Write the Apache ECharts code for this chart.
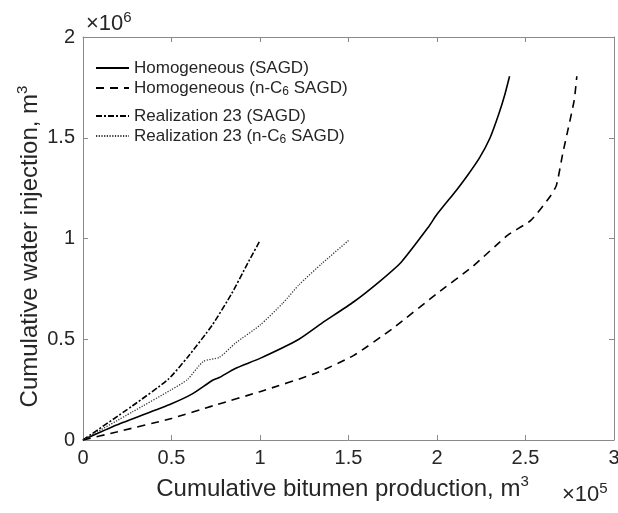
<!DOCTYPE html>
<html>
<head>
<meta charset="utf-8">
<script src="https://cdn.jsdelivr.net/npm/echarts@6/dist/echarts.min.js"></script>
<style>
  html, body { margin: 0; padding: 0; background: #fff; }
  #chart { width: 618px; height: 513px; }
</style>
</head>
<body>
<div id="chart"></div>
<script>
// x: cumulative bitumen production (x1e5 m3), y: cumulative water injection (x1e6 m3)
var names = [
  'Homogeneous (SAGD)',
  'Homogeneous (n-C6 SAGD)',
  'Realization 23 (SAGD)',
  'Realization 23 (n-C6 SAGD)'
];
var homSagd = [
  [0, 0], [0.19, 0.074], [0.5, 0.18], [0.62, 0.23], [0.73, 0.295], [0.77, 0.31],
  [0.86, 0.355], [1.0, 0.405], [1.22, 0.5], [1.35, 0.58], [1.53, 0.686],
  [1.68, 0.79], [1.8, 0.885], [1.95, 1.055], [2.0, 1.12], [2.11, 1.24],
  [2.17, 1.31], [2.24, 1.4], [2.3, 1.5], [2.35, 1.62], [2.385, 1.72], [2.41, 1.805]
];
var homC6 = [
  [0, 0], [0.19, 0.04], [0.5, 0.107], [0.75, 0.174], [1.0, 0.24], [1.31, 0.33],
  [1.53, 0.42], [1.75, 0.554], [2.0, 0.727], [2.2, 0.86], [2.4, 1.017],
  [2.53, 1.09], [2.64, 1.21], [2.675, 1.265], [2.71, 1.42], [2.74, 1.54],
  [2.775, 1.686], [2.79, 1.805]
];
var realSagd = [
  [0, 0], [0.28, 0.17], [0.48, 0.3], [0.59, 0.41], [0.73, 0.57],
  [0.84, 0.727], [0.93, 0.876], [1.0, 0.99]
];
var realC6 = [
  [0, 0], [0.28, 0.14], [0.5, 0.25], [0.59, 0.3], [0.68, 0.39], [0.77, 0.41],
  [0.86, 0.48], [1.0, 0.57], [1.13, 0.68], [1.22, 0.77], [1.35, 0.876], [1.5, 0.99]
];
var xTicks = { min: 0, max: 3, interval: 0.5 };
var yTicks = { min: 0, max: 2, interval: 0.5 };

var font = 'Arial, "Liberation Sans", Helvetica, sans-serif';
var axisGray = '#8a8a8a';
var textColor = '#262626';

var myChart = echarts.init(document.getElementById('chart'));

function legendFmt(name) {
  return name.replace('C6', 'C{sub|6}');
}
var legendText = {
  fontFamily: font, fontSize: 17, color: textColor, lineHeight: 20,
  rich: { sub: { fontSize: 12, verticalAlign: 'bottom', lineHeight: 11 } }
};

function axisBase(pos, show, range) {
  return {
    type: 'value', position: pos,
    min: range.min, max: range.max, interval: range.interval,
    axisLine: { show: true, onZero: false, lineStyle: { color: axisGray, width: 1 } },
    axisTick: { show: true, inside: true, length: 5, lineStyle: { color: axisGray } },
    axisLabel: {
      show: show, color: textColor, fontFamily: font, fontSize: 20, margin: 8
    },
    splitLine: { show: false }
  };
}

var nameRich = {
  a: { fontFamily: font, fontSize: 24, color: textColor, lineHeight: 30 },
  s: { fontFamily: font, fontSize: 15, color: textColor, verticalAlign: 'top', lineHeight: 16 }
};

var xBottom = axisBase('bottom', true, xTicks);
xBottom.name = '{a|Cumulative bitumen production, m}{s|3}';
xBottom.nameLocation = 'middle';
xBottom.nameGap = 34;
xBottom.nameTextStyle = { rich: nameRich, padding: [0, 12, 0, 0] };

var yLeft = axisBase('left', true, yTicks);
yLeft.name = '{a|Cumulative water injection, m}{s|3}';
yLeft.nameLocation = 'middle';
yLeft.nameGap = 38;
yLeft.nameMoveOverlap = false;
yLeft.nameTextStyle = { rich: nameRich, padding: [0, 16, 0, 0] };

var expRich = {
  a: { fontFamily: font, fontSize: 22, fill: textColor, lineHeight: 28 },
  s: { fontFamily: font, fontSize: 15, fill: textColor, verticalAlign: 'top', lineHeight: 15 }
};

var option = {
  backgroundColor: '#fff',
  animation: false,
  grid: { left: 83, right: 4, top: 37, bottom: 73, containLabel: false, outerBoundsMode: 'none' },
  legend: [
    {
      orient: 'vertical', left: 95, top: 58, padding: 0, itemWidth: 33, itemHeight: 12, itemGap: 0,
      data: names.slice(0, 2), formatter: legendFmt, textStyle: legendText,
      itemStyle: { opacity: 0 }, selectedMode: false
    },
    {
      orient: 'vertical', left: 95, top: 106, padding: 0, itemWidth: 33, itemHeight: 12, itemGap: 0,
      data: names.slice(2, 4), formatter: legendFmt, textStyle: legendText,
      itemStyle: { opacity: 0 }, selectedMode: false
    }
  ],
  xAxis: [xBottom, axisBase('top', false, xTicks)],
  yAxis: [yLeft, axisBase('right', false, yTicks)],
  graphic: [
    {
      type: 'text', left: 86, top: 10,
      style: { text: '{a|×10}{s|6}', rich: expRich }
    },
    {
      type: 'text', left: 562, top: 481,
      style: { text: '{a|×10}{s|5}', rich: expRich }
    }
  ],
  series: [
    {
      name: names[0], type: 'line', data: homSagd, smooth: 0.2, symbol: 'none',
      lineStyle: { color: '#000', width: 1.6, type: 'solid' }, itemStyle: { color: '#000' }
    },
    {
      name: names[1], type: 'line', data: homC6, smooth: 0.2, symbol: 'none',
      lineStyle: { color: '#000', width: 1.6, type: [8, 6] }, itemStyle: { color: '#000' }
    },
    {
      name: names[2], type: 'line', data: realSagd, smooth: 0.2, symbol: 'none',
      lineStyle: { color: '#000', width: 1.6, type: [6, 2, 2, 2] }, itemStyle: { color: '#000' }
    },
    {
      name: names[3], type: 'line', data: realC6, smooth: 0.2, symbol: 'none',
      lineStyle: { color: '#333', width: 1.3, type: [1.2, 1.5] }, itemStyle: { color: '#333' }
    }
  ]
};

myChart.setOption(option);
window.addEventListener('resize', function () {
  myChart.resize();
});
</script>
</body>
</html>
